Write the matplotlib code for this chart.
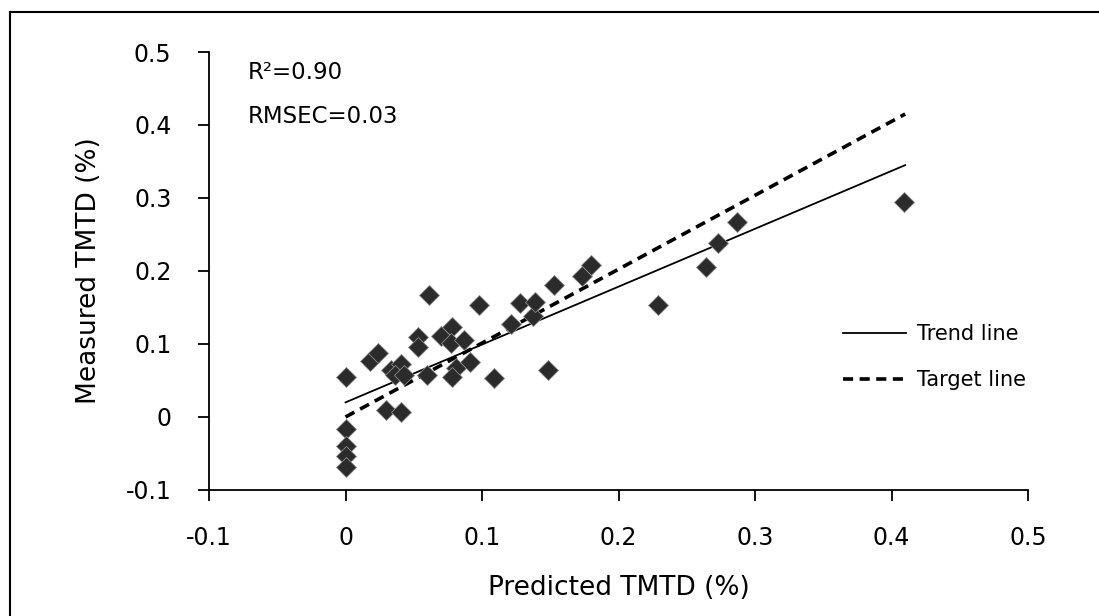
import matplotlib
matplotlib.use("Agg")
import matplotlib.pyplot as plt
from matplotlib.lines import Line2D

plt.rcParams['font.family'] = ['DejaVu Sans']

# ---- data ----
predicted = [0, 0, 0, 0, 0, 0.018, 0.024, 0.033, 0.041, 0.036, 0.043, 0.030, 0.041,
             0.053, 0.053, 0.060, 0.061, 0.070, 0.078, 0.077, 0.087, 0.081, 0.091,
             0.078, 0.098, 0.109, 0.121, 0.128, 0.137, 0.139, 0.148, 0.153, 0.173,
             0.180, 0.229, 0.264, 0.273, 0.287, 0.409]
measured = [0.055, -0.017, -0.040, -0.054, -0.068, 0.077, 0.087, 0.064, 0.073, 0.057,
            0.058, 0.009, 0.007, 0.109, 0.096, 0.057, 0.167, 0.111, 0.123, 0.102,
            0.105, 0.067, 0.076, 0.055, 0.153, 0.053, 0.127, 0.156, 0.139, 0.158,
            0.065, 0.181, 0.193, 0.208, 0.153, 0.206, 0.238, 0.267, 0.294]
trend_x = [0, 0.41]
trend_y = [0.020, 0.345]
target_x = [0, 0.41]
target_y = [0, 0.415]
x_ticks = [-0.1, 0, 0.1, 0.2, 0.3, 0.4, 0.5]
y_ticks = [-0.1, 0, 0.1, 0.2, 0.3, 0.4, 0.5]
x_ticklabels = ['-0.1', '0', '0.1', '0.2', '0.3', '0.4', '0.5']
y_ticklabels = ['-0.1', '0', '0.1', '0.2', '0.3', '0.4', '0.5']

W, H = 1099, 616
fig = plt.figure(figsize=(W / 100, H / 100), dpi=100)
ax = fig.add_axes([209 / W, 1 - 490 / H, (1028 - 209) / W, (490 - 52) / H])

ax.plot(predicted, measured, linestyle='none', marker='D', markersize=10,
        markerfacecolor='#2b2b2b', markeredgecolor='#8a8a8a', markeredgewidth=0.6,
        zorder=3)
trend, = ax.plot(trend_x, trend_y, color='black', linewidth=1.3, zorder=2)
target, = ax.plot(target_x, target_y, color='black', linewidth=2.6,
                  dashes=(2.8, 1.8), zorder=2)

ax.set_xlim(-0.1, 0.5)
ax.set_ylim(-0.1, 0.5)
ax.set_xticks(x_ticks)
ax.set_xticklabels(x_ticklabels)
ax.set_yticks(y_ticks)
ax.set_yticklabels(y_ticklabels)

for side in ['top', 'right']:
    ax.spines[side].set_visible(False)
for side in ['left', 'bottom']:
    ax.spines[side].set_linewidth(1.3)
    ax.spines[side].set_color('black')

ax.tick_params(axis='both', direction='out', length=8, width=1.3, labelsize=17,
               colors='black')
ax.tick_params(axis='y', pad=19)
ax.tick_params(axis='x', pad=18)

ax.set_xlabel('Predicted TMTD (%)', fontsize=19, labelpad=18)
ax.set_ylabel('Measured TMTD (%)', fontsize=19, labelpad=17)

ax.text(-0.0715, 0.472, 'R²=0.90', fontsize=16.5, ha='left', va='center')
ax.text(-0.0715, 0.412, 'RMSEC=0.03', fontsize=16.5, ha='left', va='center')

ax.legend([trend, target], ['Trend line', 'Target line'], loc='center left',
          bbox_to_anchor=(843 / W, 1 - 357 / H), bbox_transform=fig.transFigure,
          frameon=False, fontsize=15, handlelength=3.0, handletextpad=0.55,
          labelspacing=1.25, borderpad=0, borderaxespad=0)

# outer frame of the picture
fig.add_artist(Line2D([10 / W, 10 / W], [0, 1 - 12 / H], transform=fig.transFigure,
                      color='black', linewidth=1.5))
fig.add_artist(Line2D([10 / W, 1], [1 - 12 / H, 1 - 12 / H], transform=fig.transFigure,
                      color='black', linewidth=1.5))

fig.savefig('out.png', dpi=100)
